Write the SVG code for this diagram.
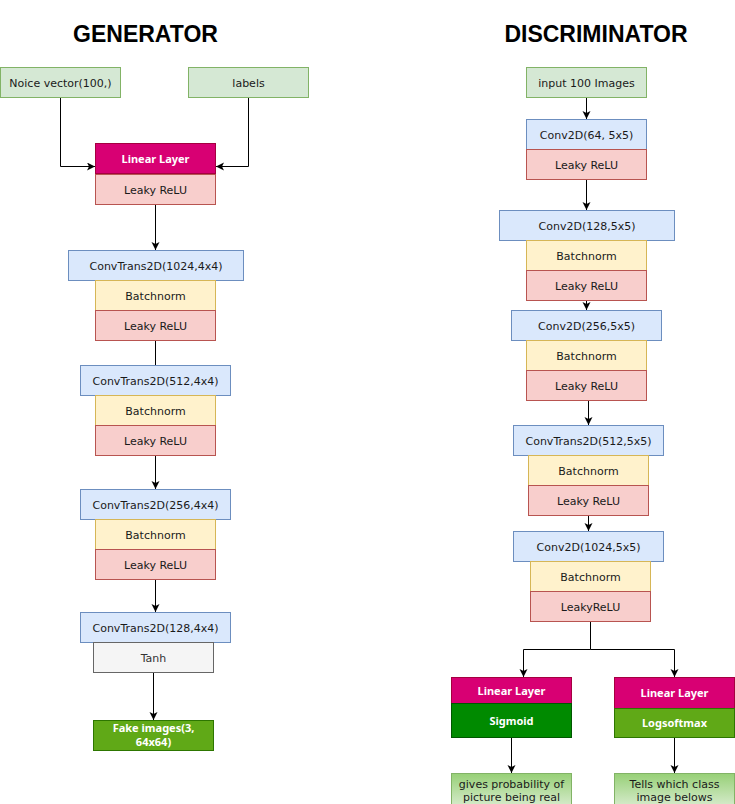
<svg xmlns="http://www.w3.org/2000/svg" width="735" height="804" viewBox="0 0 735 804">
<defs>
<style>
.t{font-family:"DejaVu Sans",Verdana,sans-serif;font-size:11px;fill:#1a1a1a;text-anchor:middle}
.w{font-family:"Noto Sans","DejaVu Sans",sans-serif;font-size:11px;font-weight:bold;fill:#ffffff;text-anchor:middle}
.h{font-family:"Liberation Sans",Arial,sans-serif;font-size:23px;font-weight:bold;fill:#000;text-anchor:middle}
.g{fill:#d5e8d4;stroke:#82b366}
.b{fill:#dae8fc;stroke:#6c8ebf}
.y{fill:#fff2cc;stroke:#d6b656}
.r{fill:#f8cecc;stroke:#b85450}
.m{fill:#d80073;stroke:#a50040}
.gr{fill:#f5f5f5;stroke:#666666}
.lg{fill:#60a917;stroke:#2d7600}
.dg{fill:#008a00;stroke:#005700}
.gd{fill:url(#grad);stroke:#82b366}
.c{fill:none;stroke:#000;stroke-width:1}
</style>
<linearGradient id="grad" x1="0" y1="0" x2="0" y2="1">
<stop offset="0" stop-color="#97d077"/>
<stop offset="1" stop-color="#e4f1de"/>
</linearGradient>
<marker id="a" markerWidth="10" markerHeight="10" refX="8" refY="4" orient="auto" markerUnits="userSpaceOnUse">
<path d="M0,0 L8,4 L0,8 L2,4 z" fill="#000"/>
</marker>
</defs>
<rect width="735" height="804" fill="#ffffff"/>
<text class="h" x="145.5" y="41.5">GENERATOR</text>
<text class="h" x="596" y="41.5">DISCRIMINATOR</text>

<g id="connectors">
<path class="c" d="M60.5,98 V166.5 H95" marker-end="url(#a)"/>
<path class="c" d="M248.5,98 V166.5 H216" marker-end="url(#a)"/>
<path class="c" d="M155.5,204 V250" marker-end="url(#a)"/>
<path class="c" d="M155.5,340 V365"/>
<path class="c" d="M155.5,455 V489" marker-end="url(#a)"/>
<path class="c" d="M155.5,579 V612" marker-end="url(#a)"/>
<path class="c" d="M153.5,672 V720" marker-end="url(#a)"/>
<path class="c" d="M586.5,98 V119" marker-end="url(#a)"/>
<path class="c" d="M586.5,179 V210" marker-end="url(#a)"/>
<path class="c" d="M586.5,300 V310" marker-end="url(#a)"/>
<path class="c" d="M588.5,400 V425" marker-end="url(#a)"/>
<path class="c" d="M588.5,515 V531" marker-end="url(#a)"/>
<path class="c" d="M590.5,621 V649.5 H523.5 V677" marker-end="url(#a)"/>
<path class="c" d="M590.5,649.5 H674.5 V677" marker-end="url(#a)"/>
<path class="c" d="M511.5,737 V773" marker-end="url(#a)"/>
<path class="c" d="M674.5,737 V773" marker-end="url(#a)"/>
</g>

<g id="g-noise"><rect class="g" x="0.5" y="67.5" width="120" height="30"/><text class="t" x="60.5" y="86.5">Noice vector(100,)</text></g>
<g id="g-labels"><rect class="g" x="188.5" y="67.5" width="120" height="30"/><text class="t" x="248.5" y="86.5">labels</text></g>
<g id="g-linear"><rect class="m" x="95.5" y="143.5" width="120" height="30"/><text class="w" x="155.5" y="162.5">Linear Layer</text></g>
<g id="g-lrelu0"><rect class="r" x="95.5" y="174.5" width="120" height="30"/><text class="t" x="155.5" y="193.5">Leaky ReLU</text></g>

<g id="g-ct1024"><rect class="b" x="68.5" y="250.5" width="175" height="30"/><text class="t" x="156" y="269.5">ConvTrans2D(1024,4x4)</text></g>
<g id="g-bn1"><rect class="y" x="95.5" y="280.5" width="120" height="30"/><text class="t" x="155.5" y="299.5">Batchnorm</text></g>
<g id="g-lr1"><rect class="r" x="95.5" y="310.5" width="120" height="30"/><text class="t" x="155.5" y="329.5">Leaky ReLU</text></g>

<g id="g-ct512"><rect class="b" x="80.5" y="365.5" width="150" height="30"/><text class="t" x="155.5" y="384.5">ConvTrans2D(512,4x4)</text></g>
<g id="g-bn2"><rect class="y" x="95.5" y="395.5" width="120" height="30"/><text class="t" x="155.5" y="414.5">Batchnorm</text></g>
<g id="g-lr2"><rect class="r" x="95.5" y="425.5" width="120" height="30"/><text class="t" x="155.5" y="444.5">Leaky ReLU</text></g>

<g id="g-ct256"><rect class="b" x="80.5" y="489.5" width="150" height="30"/><text class="t" x="155.5" y="508.5">ConvTrans2D(256,4x4)</text></g>
<g id="g-bn3"><rect class="y" x="95.5" y="519.5" width="120" height="30"/><text class="t" x="155.5" y="538.5">Batchnorm</text></g>
<g id="g-lr3"><rect class="r" x="95.5" y="549.5" width="120" height="30"/><text class="t" x="155.5" y="568.5">Leaky ReLU</text></g>

<g id="g-ct128"><rect class="b" x="80.5" y="612.5" width="150" height="30"/><text class="t" x="155.5" y="631.5">ConvTrans2D(128,4x4)</text></g>
<g id="g-tanh"><rect class="gr" x="93.5" y="642.5" width="120" height="30"/><text class="t" x="153.5" y="661.5" style="fill:#333333">Tanh</text></g>
<g id="g-fake"><rect class="lg" x="93.5" y="720.5" width="120" height="30"/><text class="w" x="153.5" y="732">Fake images(3,</text><text class="w" x="153.5" y="746">64x64)</text></g>

<g id="d-input"><rect class="g" x="526.5" y="67.5" width="120" height="30"/><text class="t" x="586.5" y="86.5">input 100 Images</text></g>
<g id="d-c64"><rect class="b" x="526.5" y="119.5" width="120" height="30"/><text class="t" x="586.5" y="138.5">Conv2D(64, 5x5)</text></g>
<g id="d-lr1"><rect class="r" x="526.5" y="149.5" width="120" height="30"/><text class="t" x="586.5" y="168.5">Leaky ReLU</text></g>

<g id="d-c128"><rect class="b" x="499.5" y="210.5" width="175" height="30"/><text class="t" x="587" y="229.5">Conv2D(128,5x5)</text></g>
<g id="d-bn2"><rect class="y" x="526.5" y="240.5" width="120" height="30"/><text class="t" x="586.5" y="259.5">Batchnorm</text></g>
<g id="d-lr2"><rect class="r" x="526.5" y="270.5" width="120" height="30"/><text class="t" x="586.5" y="289.5">Leaky ReLU</text></g>

<g id="d-c256"><rect class="b" x="511.5" y="310.5" width="150" height="30"/><text class="t" x="586.5" y="329.5">Conv2D(256,5x5)</text></g>
<g id="d-bn3"><rect class="y" x="526.5" y="340.5" width="120" height="30"/><text class="t" x="586.5" y="359.5">Batchnorm</text></g>
<g id="d-lr3"><rect class="r" x="526.5" y="370.5" width="120" height="30"/><text class="t" x="586.5" y="389.5">Leaky ReLU</text></g>

<g id="d-ct512"><rect class="b" x="513.5" y="425.5" width="150" height="30"/><text class="t" x="588.5" y="444.5">ConvTrans2D(512,5x5)</text></g>
<g id="d-bn4"><rect class="y" x="528.5" y="455.5" width="120" height="30"/><text class="t" x="588.5" y="474.5">Batchnorm</text></g>
<g id="d-lr4"><rect class="r" x="528.5" y="485.5" width="120" height="30"/><text class="t" x="588.5" y="504.5">Leaky ReLU</text></g>

<g id="d-c1024"><rect class="b" x="513.5" y="531.5" width="150" height="30"/><text class="t" x="588.5" y="550.5">Conv2D(1024,5x5)</text></g>
<g id="d-bn5"><rect class="y" x="530.5" y="561.5" width="120" height="30"/><text class="t" x="590.5" y="580.5">Batchnorm</text></g>
<g id="d-lr5"><rect class="r" x="530.5" y="591.5" width="120" height="30"/><text class="t" x="590.5" y="610.5">LeakyReLU</text></g>

<g id="d-lin1"><rect class="m" x="451.5" y="677.5" width="120" height="26"/><text class="w" x="511.5" y="694.5">Linear Layer</text></g>
<g id="d-sig"><rect class="dg" x="451.5" y="703.5" width="120" height="34"/><text class="w" x="511.5" y="724.5">Sigmoid</text></g>
<g id="d-lin2"><rect class="m" x="614.5" y="677.5" width="120" height="31"/><text class="w" x="674.5" y="697">Linear Layer</text></g>
<g id="d-logs"><rect class="lg" x="614.5" y="708.5" width="120" height="29"/><text class="w" x="674.5" y="727">Logsoftmax</text></g>

<g id="d-out1"><rect class="gd" x="451.5" y="773.5" width="120" height="40"/><text class="t" x="511.5" y="788">gives probability of</text><text class="t" x="511.5" y="801">picture being real</text></g>
<g id="d-out2"><rect class="gd" x="614.5" y="773.5" width="120" height="40"/><text class="t" x="674.5" y="788">Tells which class</text><text class="t" x="674.5" y="801">image belows</text></g>
</svg>
